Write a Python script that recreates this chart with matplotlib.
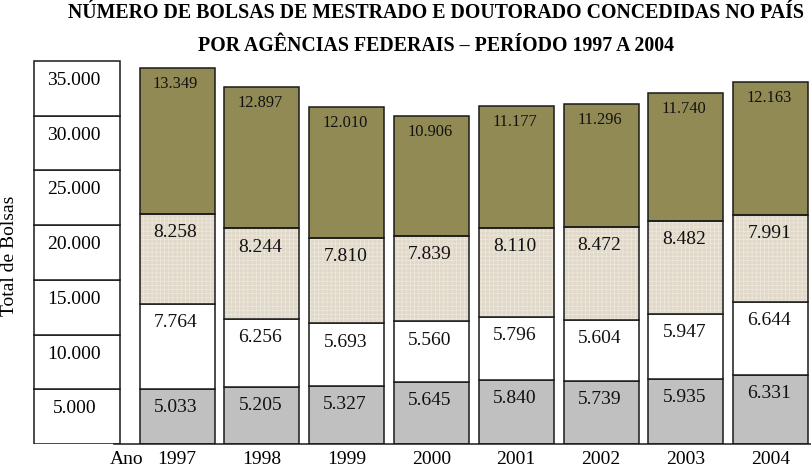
import numpy as np
import matplotlib.pyplot as plt

plt.rcParams['font.family'] = ['Liberation Serif', 'DejaVu Serif']
plt.rcParams['hatch.linewidth'] = 0.5

# data
anos = ["1997", "1998", "1999", "2000", "2001", "2002", "2003", "2004"]
seg_cinza = [5033, 5205, 5327, 5645, 5840, 5739, 5935, 6331]
seg_branco = [7764, 6256, 5693, 5560, 5796, 5604, 5947, 6644]
seg_textura = [8258, 8244, 7810, 7839, 8110, 8472, 8482, 7991]
seg_oliva = [13349, 12897, 12010, 10906, 11177, 11296, 11740, 12163]
escala = [5000, 10000, 15000, 20000, 25000, 30000, 35000]

titulo_1 = "NÚMERO DE BOLSAS DE MESTRADO E DOUTORADO CONCEDIDAS NO PAÍS"
titulo_2 = "POR AGÊNCIAS FEDERAIS – PERÍODO 1997 A 2004"


def fmt(v):
    return f"{v:,}".replace(",", ".")


W, H = 811, 467
fig = plt.figure(figsize=(W / 100, H / 100), dpi=100)

# axes laid out in pixel terms: baseline at y=444, top at y=50
ax = fig.add_axes([0, (H - 444) / H, 1, (444 - 50) / H])
px_per_unit = 10.94 / 1000
ax.set_ylim(0, (444 - 50) / px_per_unit)
x0, step = 177, 84.8
ax.set_xlim(-x0 / step, (W - x0) / step)
ax.axis("off")

x = np.arange(len(anos))
w = 75 / step
cinza = np.array(seg_cinza)
branco = np.array(seg_branco)
textura = np.array(seg_textura)
oliva = np.array(seg_oliva)

ec = "#1a1a1a"
ax.bar(x, cinza, w, color="#c0c0c0", edgecolor=ec, lw=1.1, zorder=2)
ax.bar(x, branco, w, bottom=cinza, color="white", edgecolor=ec, lw=1.1, zorder=2)
b2 = cinza + branco
# cloth-like fill: hatch over beige, then outline drawn separately
ax.bar(x, textura, w, bottom=b2, color="#e0d8c8", edgecolor="#eee9df",
       hatch="++++", lw=0, zorder=2)
ax.bar(x, textura, w, bottom=b2, color="none", edgecolor=ec, lw=1.1, zorder=3)
b3 = b2 + textura
ax.bar(x, oliva, w, bottom=b3, color="#918a54", edgecolor=ec, lw=1.1, zorder=2)

segs = [(cinza, 0, 14, 13.5), (branco, cinza, 14, 13.5),
        (textura, b2, 14, 13.5), (oliva, b3, 11.8, 11.5)]
for vals, base, fs, off in segs:
    tops = np.asarray(base) + vals
    for xi, t, v in zip(x, tops, vals):
        ax.annotate(fmt(v), (xi, t), xytext=(-1, -off), textcoords="offset points",
                    ha="center", va="center", fontsize=fs, color="#111111", zorder=4)

# label column on the left
bx0, bx1 = (34 - x0) / step, (120 - x0) / step
for v in escala:
    ax.add_patch(plt.Rectangle((bx0, v - 5000), bx1 - bx0, 5000, facecolor="white",
                               edgecolor=ec, lw=1.1, zorder=2))
    ax.annotate(fmt(v), ((bx0 + bx1) / 2, v), xytext=(-2, -14),
                textcoords="offset points", ha="center", va="center", fontsize=14)

# baseline
ax.plot([(114 - x0) / step, (W - x0) / step], [0, 0], color=ec, lw=1.1, zorder=3,
        clip_on=False)

for xi, a in zip(x, anos):
    ax.annotate(a, (xi, 0), xytext=(0, -11.5), textcoords="offset points",
                ha="center", va="center", fontsize=14, annotation_clip=False)
ax.annotate("Ano", ((127 - x0) / step, 0), xytext=(0, -11.5), textcoords="offset points",
            ha="center", va="center", fontsize=14, annotation_clip=False)

fig.text(10 / W, 1 - 256 / H, "Total de Bolsas", rotation=90, ha="center",
         va="center", fontsize=14)
fig.text(436 / W, 1 - 13 / H, titulo_1, ha="center", va="center", fontsize=14.3,
         fontweight="bold")
fig.text(436 / W, 1 - 46 / H, titulo_2, ha="center", va="center", fontsize=14.3,
         fontweight="bold")

fig.savefig("out.png", dpi=100)
